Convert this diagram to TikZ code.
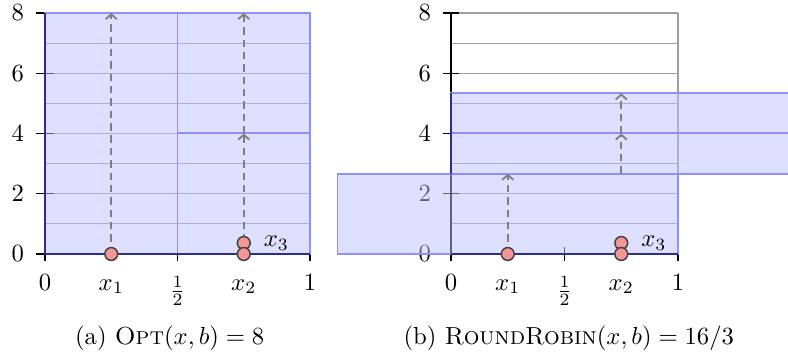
\documentclass[tikz,border=0pt]{standalone}
\usetikzlibrary{arrows.meta}
\definecolor{rectfill}{RGB}{192,192,255}
\definecolor{ptfill}{RGB}{245,150,150}
\definecolor{edgecol}{RGB}{145,145,245}
\definecolor{navyax}{RGB}{45,45,140}
\tikzset{
  binfill/.style={fill=rectfill, fill opacity=0.5},
  binedge/.style={draw=edgecol, line width=0.8pt},
  gridline/.style={draw=gray!75, line width=0.45pt},
  axisline/.style={draw=black, line width=0.45pt},
  axisover/.style={draw=navyax, line width=0.55pt},
  jump/.style={draw=gray, dash pattern=on 3pt off 2pt, line width=0.75pt, -{Straight Barb[length=2pt,width=4.5pt]}},
  ball/.style={circle, draw=black!75, fill=ptfill, line width=0.6pt, minimum size=5.2pt, inner sep=0pt},
  ylab/.style={anchor=east, inner sep=3.33pt},
  xlab/.style={anchor=base, inner sep=3.33pt},
  fraclab/.style={anchor=center, inner sep=3.33pt},
  caplab/.style={anchor=base, inner sep=0pt},
}
\begin{document}
\begin{tikzpicture}[x=0.405pt,y=0.405pt]
\useasboundingbox (0,0) rectangle (788,360);
% ---------------- left plot ----------------
\begin{scope}[shift={(45,106)}, x=107.325pt, y=12.2006pt]
  \foreach \k in {1,...,7} \draw[gridline] (0,\k) -- (1,\k);
  \draw[axisline] (0,0) -- (1,0);
  \draw[axisline] (0,0) -- (0,8);
  \foreach \k in {0,2,4,6,8} {
    \draw[axisline] ([xshift=-3.8pt]0,\k) -- ([xshift=3.8pt]0,\k);
    \node[ylab] (Ly\k) at ([xshift=-5pt]0,\k) {$\k$};
  }
  \foreach \v in {0,0.5,1} \draw[axisline] ([yshift=-2.8pt]\v,0) -- ([yshift=2.8pt]\v,0);
  \node[xlab] (Lt0) at ([yshift=-14.6pt]0,0) {$0$};
  \node[xlab] (Lt1) at ([yshift=-14.6pt]0.25,0) {$x_1$};
  \node[fraclab] (Lth) at ([yshift=-15.1pt]0.5,0) {$\frac{1}{2}$};
  \node[xlab] (Lt2) at ([yshift=-14.6pt]0.75,0) {$x_2$};
  \node[xlab] (Lt3) at ([yshift=-14.6pt]1,0) {$1$};
  % bins
  \fill[binfill] (0,0) rectangle (0.5,8);
  \fill[binfill] (0.5,0) rectangle (1,4);
  \fill[binfill] (0.5,4) rectangle (1,8);
  \draw[binedge] (0,0) rectangle (1,8);
  \draw[binedge] (0.5,0) -- (0.5,8);
  \draw[binedge] (0.5,4) -- (1,4);
  \draw[axisover] (1,0) -- (0,0) -- (0,8);
  % jumps
  \coordinate (La0) at (0.25,0);
  \coordinate (La1) at (0.25,8);
  \coordinate (Lb0) at (0.75,0);
  \coordinate (Lb1) at (0.75,4);
  \coordinate (Lb2) at (0.75,8);
  \draw[jump] (La0) -- (La1);
  \draw[jump] (Lb0) -- (Lb1);
  \draw[jump] (Lb1) -- (Lb2);
  % points
  \node[ball] (Lx1) at (0.25,0) {};
  \node[ball] (Lx3) at (0.75,0.365) {};
  \node[ball] (Lx2) at (0.75,0) {};
  \node[anchor=west, inner sep=0pt, xshift=5pt] (Ll3) at (Lx3.east) {$x_3$};
\end{scope}
% ---------------- right plot ----------------
\begin{scope}[shift={(451,106)}, x=91.935pt, y=12.2006pt]
  \foreach \k in {1,...,8} \draw[gridline] (0,\k) -- (1,\k);
  \draw[gridline] (1,0) -- (1,8);
  \draw[axisline] (0,0) -- (1,0);
  \draw[axisline] (0,0) -- (0,8);
  \foreach \k in {0,2,4,6,8} {
    \draw[axisline] ([xshift=-3.4pt]0,\k) -- ([xshift=3.4pt]0,\k);
    \node[ylab] (Ry\k) at ([xshift=-4.6pt]0,\k) {$\k$};
  }
  \foreach \v in {0,0.5,1} \draw[axisline] ([yshift=-2.8pt]\v,0) -- ([yshift=2.8pt]\v,0);
  \node[xlab] (Rt0) at ([yshift=-14.6pt]0,0) {$0$};
  \node[xlab] (Rt1) at ([yshift=-14.6pt]0.25,0) {$x_1$};
  \node[fraclab] (Rth) at ([yshift=-15.1pt]0.5,0) {$\frac{1}{2}$};
  \node[xlab] (Rt2) at ([yshift=-14.6pt]0.75,0) {$x_2$};
  \node[xlab] (Rt3) at ([yshift=-14.6pt]1,0) {$1$};
  % bins
  \fill[binfill] (-0.5,0) rectangle (1,2.6667);
  \fill[binfill] (0,2.6667) rectangle (1.5,4);
  \fill[binfill] (0,4) rectangle (1.5,5.3333);
  \draw[binedge] (-0.5,0) rectangle (1,2.6667);
  \draw[binedge] (0,2.6667) rectangle (1.5,5.3333);
  \draw[binedge] (0,4) -- (1.5,4);
  \draw[axisover] (0,0) -- (1,0);
  \draw[axisover] (0,2.6667) -- (0,5.3333);
  % jumps
  \coordinate (Ra0) at (0.25,0);
  \coordinate (Ra1) at (0.25,2.6667);
  \coordinate (Rb0) at (0.75,2.6667);
  \coordinate (Rb1) at (0.75,4);
  \coordinate (Rb2) at (0.75,5.3333);
  \draw[jump] (Ra0) -- (Ra1);
  \draw[jump] (Rb0) -- (Rb1);
  \draw[jump] (Rb1) -- (Rb2);
  % points
  \node[ball] (Rx1) at (0.25,0) {};
  \node[ball] (Rx3) at (0.75,0.365) {};
  \node[ball] (Rx2) at (0.75,0) {};
  \node[anchor=west, inner sep=0pt, xshift=5pt] (Rl3) at (Rx3.east) {$x_3$};
\end{scope}
% ---------------- captions ----------------
\node[caplab] (capa) at (169.7,15.3) {(a) \textsc{Opt}$(x,b) = 8$};
\node[caplab] (capb) at (568.8,15.3) {(b) \textsc{RoundRobin}$(x,b) = 16/3$};
\end{tikzpicture}
\end{document}
